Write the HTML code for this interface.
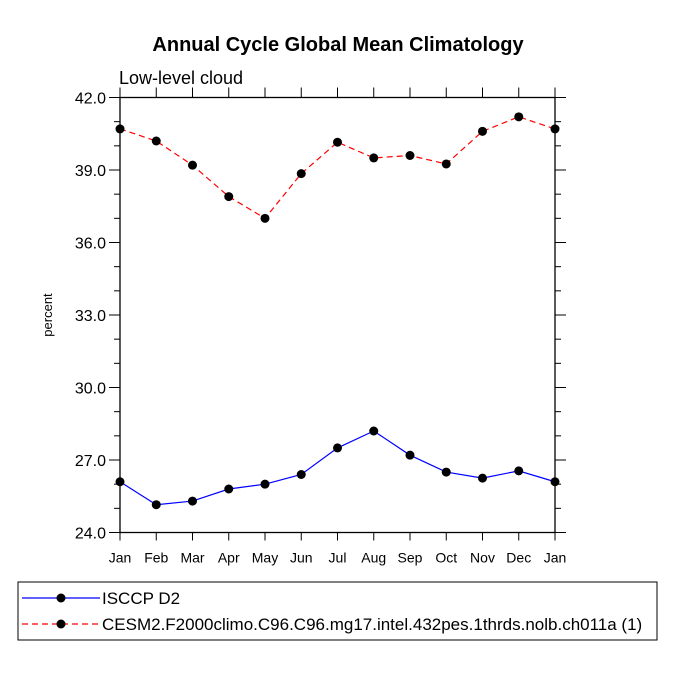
<!DOCTYPE html>
<html><head><meta charset="utf-8"><style>
body{margin:0;background:#fff;}
svg text{font-family:"Liberation Sans",sans-serif;}
</style></head><body>
<svg id="c" width="675" height="675" xmlns="http://www.w3.org/2000/svg">
<text x="338" y="51" text-anchor="middle" font-size="20" font-weight="bold">Annual Cycle Global Mean Climatology</text>
<text x="119" y="84" font-size="18">Low-level cloud</text>
<text x="52" y="315" font-size="13" text-anchor="middle" transform="rotate(-90 52 315)">percent</text>
<g id="axes"></g>
<g id="series"></g>
<rect x="18" y="582" width="639" height="58" fill="none" stroke="#000" stroke-width="1"/>
<g>
<line x1="22" y1="598" x2="100" y2="598" stroke="#00f" stroke-width="1.2"/>
<circle cx="61" cy="598" r="4.5" fill="#000"/>
<text x="102" y="604" font-size="17">ISCCP D2</text></g>
<g>
<line x1="22" y1="624" x2="100" y2="624" stroke="#f00" stroke-width="1.2" stroke-dasharray="6,4"/>
<circle cx="61" cy="624" r="4.5" fill="#000"/>
<text x="102" y="630" font-size="17">CESM2.F2000climo.C96.C96.mg17.intel.432pes.1thrds.nolb.ch011a (1)</text></g>
</svg>
<script>
const months=["Jan","Feb","Mar","Apr","May","Jun","Jul","Aug","Sep","Oct","Nov","Dec","Jan"];
const isccp=[26.1,25.15,25.3,25.8,26.0,26.4,27.5,28.2,27.2,26.5,26.25,26.55,26.1];
const cesm=[40.7,40.2,39.2,37.9,37.0,38.85,40.15,39.5,39.6,39.25,40.6,41.2,40.7];
const yTicks=[24,27,30,33,36,39,42];
const yLabels=["24.0","27.0","30.0","33.0","36.0","39.0","42.0"];
const L=120,R=555,T=97.5,B=532.5,ymin=24,ymax=42;
const xs=i=>L+(R-L)*i/(months.length-1);
const ys=v=>B-(v-ymin)/(ymax-ymin)*(B-T);
const NS="http://www.w3.org/2000/svg";
function mk(tag,attrs,parent){const e=document.createElementNS(NS,tag);for(const k in attrs)e.setAttribute(k,attrs[k]);parent.appendChild(e);return e;}
const ax=document.getElementById('axes');
const frame=mk('rect',{x:L,y:T,width:R-L,height:B-T,fill:'none',stroke:'#000','stroke-width':1.3},ax);


for(let v=ymin;v<=ymax;v++){
  const major=(v-ymin)%3===0;const y=ys(v);const len=major?11:6;
  const t1=mk('line',{x1:L-len,y1:y,x2:L,y2:y,stroke:'#000','stroke-width':1},ax);
  
  
  const t2=mk('line',{x1:R,y1:y,x2:R+len,y2:y,stroke:'#000','stroke-width':1},ax);
  
  
}
yTicks.forEach((v,i)=>{
  const t=mk('text',{x:L-14,y:ys(v)+6,'text-anchor':'end','font-size':16},ax);
  t.textContent=yLabels[i];
  
  
});
months.forEach((m,i)=>{
  const x=xs(i);
  const a=mk('line',{x1:x,y1:B,x2:x,y2:B+8,stroke:'#000','stroke-width':1},ax);
  
  
  const b=mk('line',{x1:x,y1:T-10,x2:x,y2:T,stroke:'#000','stroke-width':1},ax);
  
  
  const t=mk('text',{x:x,y:B+30,'text-anchor':'middle','font-size':14},ax);
  t.textContent=m;
  
  
});
const sg=document.getElementById('series');
function draw(vals,color,dash,name){
  const pts=vals.map((v,i)=>xs(i)+','+ys(v)).join(' ');
  const a={points:pts,fill:'none',stroke:color,'stroke-width':1.2};
  if(dash)a['stroke-dasharray']=dash;
  const pl=mk('polyline',a,sg);
  
  
  vals.forEach((v,i)=>{
    const c=mk('circle',{cx:xs(i),cy:ys(v),r:4.5,fill:'#000'},sg);
    
    
  });
}
draw(isccp,'#00f',null,'isccp');
draw(cesm,'#f00','6,4','cesm2');
</script>
</body></html>
